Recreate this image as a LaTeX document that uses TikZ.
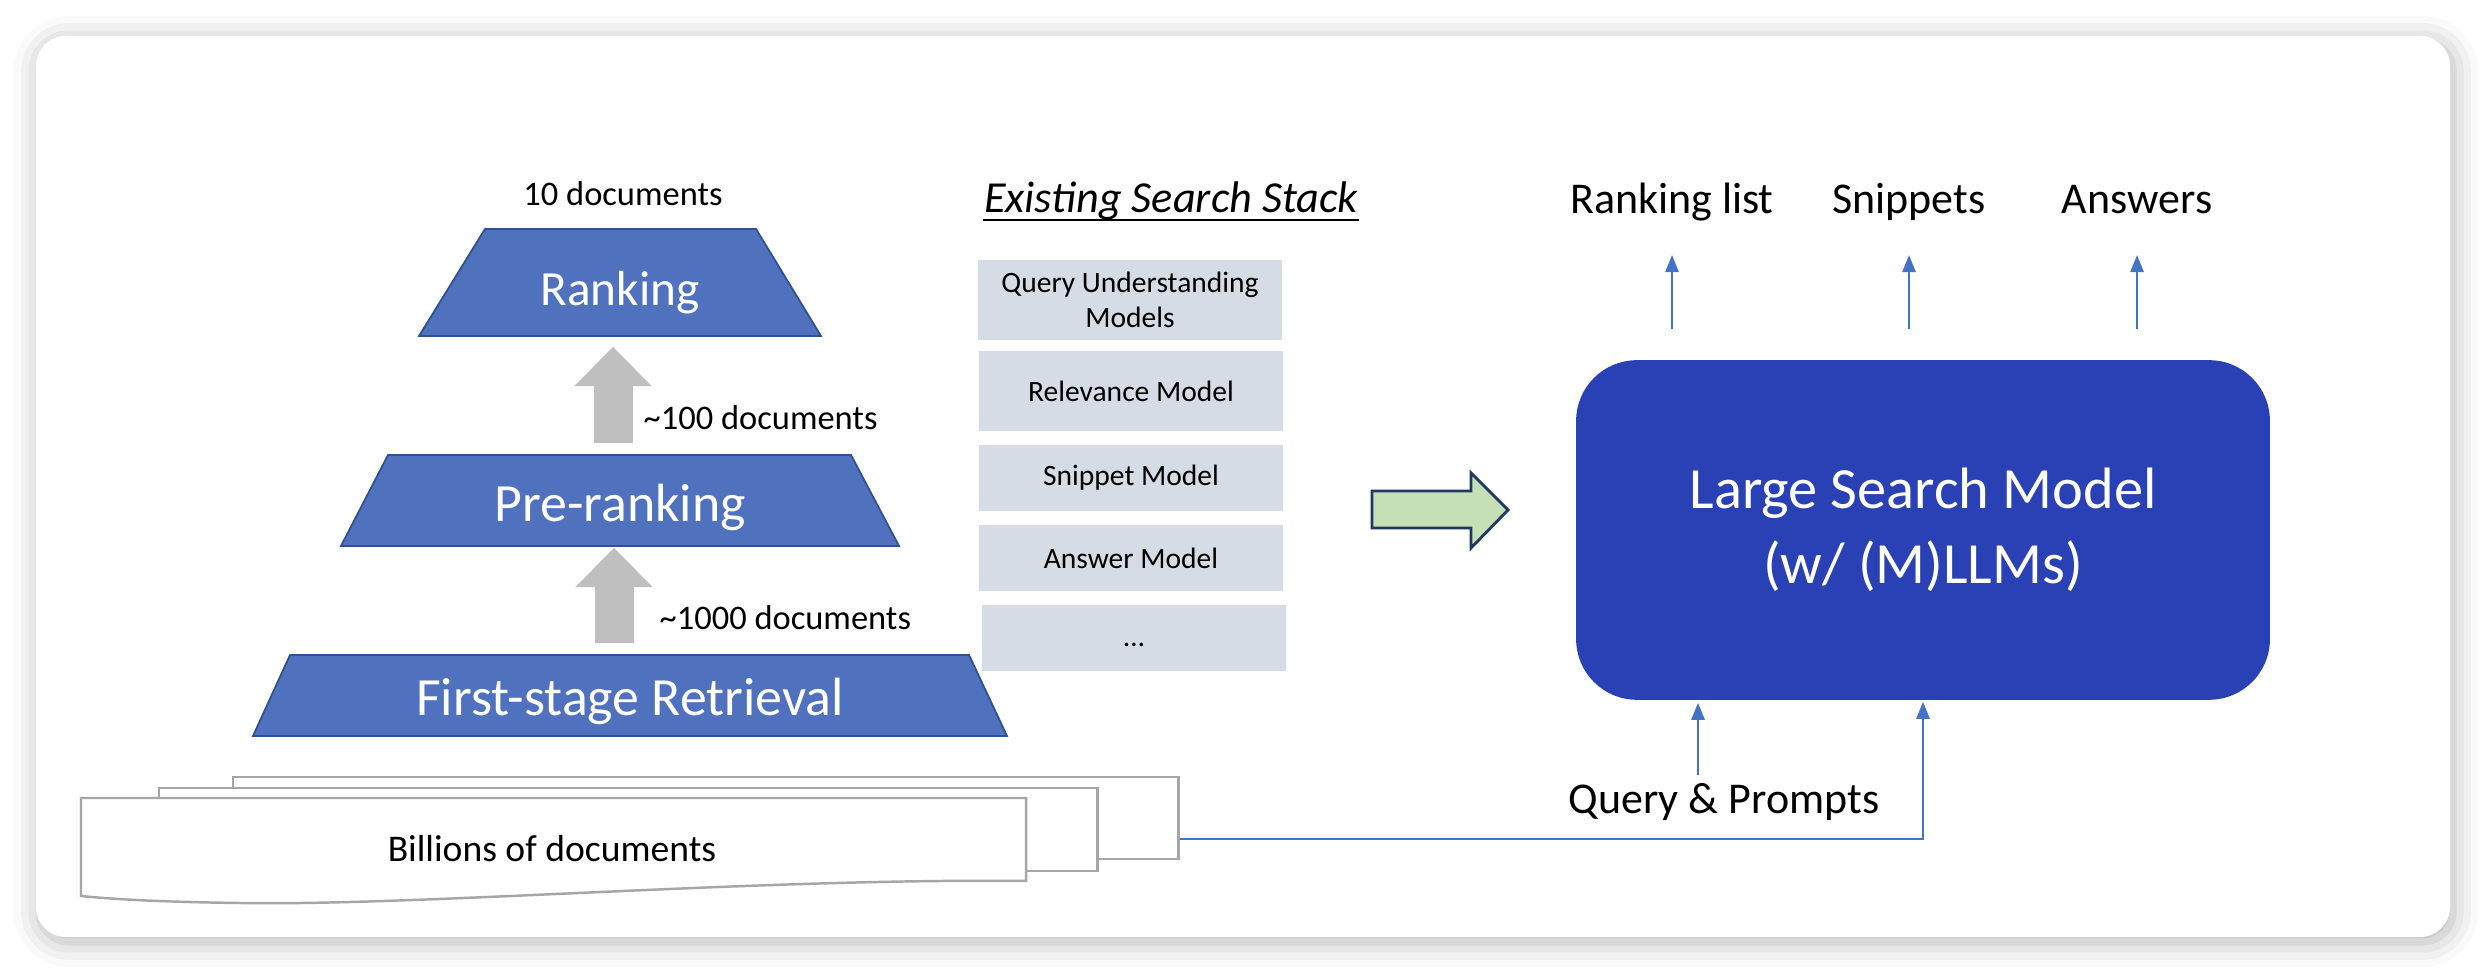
\documentclass[tikz,border=0pt]{standalone}
\usepackage{fontspec}
\setmainfont{Carlito}
\usepackage{xcolor}
\usetikzlibrary{arrows.meta,shadows.blur}
\definecolor{stageblue}{HTML}{4F71BE}
\definecolor{stageedge}{HTML}{2F528F}
\definecolor{lsmblue}{HTML}{2941B5}
\definecolor{linkblue}{HTML}{4472C4}
\definecolor{stackgray}{HTML}{D6DCE5}
\definecolor{docgray}{HTML}{A6A6A6}
\definecolor{liftgray}{HTML}{BFBFBF}
\definecolor{shiftgreen}{HTML}{C5E0B4}
\definecolor{shiftedge}{HTML}{203864}
\tikzset{
	stage/.style={fill=stageblue, draw=stageedge, line width=0.5pt},
	stagetext/.style={text=white, anchor=base, inner sep=0pt},
	count/.style={anchor=base west, inner sep=0pt, font=\fontsize{9.8}{12}\selectfont},
	lift/.style={draw=liftgray, line width=0.39cm,
			-{Triangle[length=0.39cm, width=0.77cm, line width=0.1pt]}},
	stackbox/.style={fill=stackgray, minimum width=3.04cm, inner sep=0pt,
			align=center, font=\fontsize{8.4}{10}\selectfont},
	doc/.style={draw=docgray, fill=white, line width=0.7pt, inner sep=0pt},
	link/.style={draw=linkblue, line width=0.75pt,
			-{Triangle[length=0.17cm, width=0.13cm]}},
	outlabel/.style={anchor=base, inner sep=0pt, font=\fontsize{12.5}{15}\selectfont},
	lsm/.style={fill=lsmblue, draw=lsmblue, text=white, rounded corners=0.6cm,
			minimum width=6.92cm, minimum height=3.38cm, align=center,
			font=\fontsize{16.6}{21.3}\selectfont}
}

\begin{document}
\begin{tikzpicture}[x=0.01cm, y=-0.01cm]
	\useasboundingbox (0,0) rectangle (2486,974);
	\fill[white, rounded corners=0.3cm, blur shadow={shadow xshift=0.03cm, shadow yshift=-0.05cm, shadow blur radius=0.25cm, shadow opacity=30}] (36,36) rectangle (2450,937);

	% funnel of stages
	\filldraw[stage] (485,229) -- (756,229) -- (821,336) -- (419,336) -- cycle;
	\filldraw[stage] (388,455) -- (851,455) -- (899,546) -- (341,546) -- cycle;
	\filldraw[stage] (290,655) -- (969,655) -- (1007,736) -- (253,736) -- cycle;
	\node[stagetext, font=\fontsize{14}{17}\selectfont] (rank) at (620,306) {Ranking};
	\node[stagetext, font=\fontsize{15.3}{18}\selectfont] (pre) at (620,522) {Pre-ranking};
	\node[stagetext, font=\fontsize{15.3}{18}\selectfont] (first) at (630,716) {First-stage Retrieval};
	\coordinate (rankbot) at (613,336);
	\coordinate (pretop) at (613,455);
	\coordinate (prebot) at (614,546);
	\coordinate (firsttop) at (614,655);
	\draw[lift, shorten <=0.12cm, shorten >=0.11cm] (pretop) -- (rankbot);
	\draw[lift, shorten <=0.12cm, shorten >=0.02cm] (firsttop) -- (prebot);
	\node[anchor=base, inner sep=0pt, font=\fontsize{9.8}{12}\selectfont] (top10) at (623,206) {10 documents};
	\node[count] (top100) at (643,430) {\textasciitilde100 documents};
	\node[count] (top1000) at (659,630) {\textasciitilde1000 documents};

	% corpus
	\node[doc, minimum width=9.45cm, minimum height=0.82cm] (backdoc) at (705.5,818) {};
	\node[doc, minimum width=9.38cm, minimum height=0.83cm] (middoc) at (628,829.5) {};
	\filldraw[doc] (81,798) -- (1026,798) -- (1026,881) .. controls (760,878) and (420,906) .. (240,903) .. controls (160,902) and (110,899) .. (81,896) -- cycle;
	\node[anchor=base, inner sep=0pt, font=\fontsize{10.7}{13}\selectfont] (docs) at (552,862) {Billions of documents};

	% existing stack
	\node[anchor=base, inner sep=0pt, font=\fontsize{12.6}{15}\selectfont\itshape] (stackhead) at (1171,213) {Existing Search Stack};
	\draw[line width=0.8pt] ([yshift=-0.07cm]stackhead.base west) -- ([yshift=-0.07cm]stackhead.base east);
	\node[stackbox, minimum height=0.80cm] (qu) at (1130,300) {Query Understanding\\Models};
	\node[stackbox, minimum height=0.79cm] (rel) at (1131,391) {Relevance Model};
	\node[stackbox, minimum height=0.65cm] (snip) at (1131,478) {Snippet Model};
	\node[stackbox, minimum height=0.65cm] (ans) at (1131,558) {Answer Model};
	\node[stackbox, minimum height=0.66cm, text height=0.2cm, text depth=0.04cm] (more) at (1134,638) {\dots};
	\filldraw[fill=shiftgreen, draw=shiftedge, line width=0.8pt] (1372,491) -- (1471,491) -- (1471,473) -- (1508,510) -- (1471,548) -- (1471,528) -- (1372,528) -- cycle;

	% large search model
	\node[lsm] (lsm) at (1923,530) {Large Search Model\\(w/ (M)LLMs)};
	\node[outlabel] (rlist) at (1672,214) {Ranking list};
	\node[outlabel] (snips) at (1909,214) {Snippets};
	\node[outlabel] (answ) at (2137,214) {Answers};
	\draw[link, shorten <=0.31cm, shorten >=0.41cm] (lsm.north -| rlist.base) -- (rlist.base);
	\draw[link, shorten <=0.31cm, shorten >=0.41cm] (lsm.north -| snips.base) -- (snips.base);
	\draw[link, shorten <=0.31cm, shorten >=0.41cm] (lsm.north -| answ.base) -- (answ.base);
	\node[outlabel] (qp) at (1724,814) {Query \& Prompts};
	\draw[link, shorten >=0.03cm] ([xshift=-0.26cm, yshift=0.08cm]qp.north) -- ([xshift=-0.26cm]qp.north |- lsm.south);
	\draw[link, shorten >=0.02cm] ([yshift=-0.21cm]backdoc.east) -| (lsm.south);

\end{tikzpicture}
\end{document}
